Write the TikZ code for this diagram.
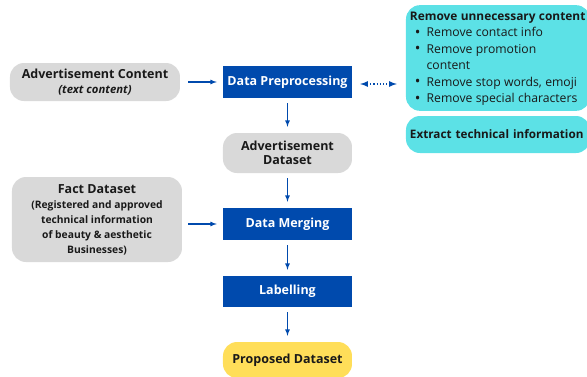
\documentclass[tikz,border=0pt]{standalone}
\usepackage{fontspec}
\setmainfont{Open Sans}
\usetikzlibrary{positioning}

\definecolor{stepblue}{RGB}{0,74,173}
\definecolor{datagray}{RGB}{217,217,217}
\definecolor{infocyan}{RGB}{92,225,230}
\definecolor{resultyellow}{RGB}{255,222,89}
\definecolor{textdark}{RGB}{25,25,25}

\newcommand{\dotitem}{\hspace{5pt}\raisebox{-0.6pt}{\fontsize{15}{15}\selectfont\textbullet}}

\tikzstyle{stepS} = [rectangle, fill=stepblue, text=white, text centered, minimum width=129pt, minimum height=32pt, font=\bfseries\fontsize{12.5}{14}\selectfont]
\tikzstyle{dataS} = [rectangle, rounded corners=14pt, fill=datagray, text=textdark, align=center, font=\bfseries\fontsize{12.5}{14.5}\selectfont]
\tikzstyle{infoS} = [rectangle, rounded corners=14pt, fill=infocyan, text=textdark, minimum width=184pt, text width=176pt, inner xsep=4pt]
\tikzstyle{arrow} = [draw, -latex, stepblue, line width=1.2pt, shorten <=5pt, shorten >=6pt]

\begin{document}
\begin{tikzpicture}[node distance=71pt, auto]
  \useasboundingbox (-287.5pt,82pt) rectangle (299.5pt,-294pt);
  \clip (-287.5pt,82pt) rectangle (299.5pt,-294pt);
  \node [stepS] (prep) {Data Preprocessing};
  \node [dataS, below of=prep, minimum width=129pt, minimum height=40pt, inner sep=2pt] (addata) {Advertisement\\Dataset};
  \node [stepS, below of=addata] (merge) {Data Merging};
  \node [stepS, below of=merge, node distance=67.5pt, minimum height=31pt] (label) {Labelling};
  \node [dataS, below of=label, node distance=68.5pt, fill=resultyellow, minimum width=129pt, minimum height=36pt] (result) {Proposed Dataset};
  \node [dataS, left of=prep, node distance=192.5pt, minimum width=170pt, minimum height=38pt, inner sep=2pt] (adcontent) {Advertisement Content\\\itshape\fontsize{11.3}{12.5}\selectfont (text content)};
  \node [dataS, left of=merge, node distance=190.5pt, yshift=4.5pt, minimum width=170pt, minimum height=85pt, inner sep=2pt, font=\bfseries\fontsize{10.3}{15}\selectfont] (fact) {{\fontsize{12.5}{14}\selectfont Fact Dataset}\\(Registered and approved\\technical information\\of beauty \& aesthetic\\Businesses)};
  \node [infoS, right of=prep, node distance=210.5pt, yshift=24pt, minimum height=104pt] (clean) {\fontsize{12.2}{16.5}\selectfont
    \begin{tabular}{@{}l@{\hspace{6pt}}l@{}}
      \multicolumn{2}{@{}l@{}}{\bfseries\fontsize{11.9}{16.5}\selectfont Remove unnecessary content}\\
      \dotitem & Remove contact info\\
      \dotitem & Remove promotion\\
       & content\\
      \dotitem & Remove stop words, emoji\\
      \dotitem & Remove special characters
    \end{tabular}};
  \node [infoS, below of=clean, node distance=76.5pt, minimum height=37pt, font=\bfseries\fontsize{11.7}{14}\selectfont] (extract) {Extract technical information};

  \draw [arrow, shorten <=8pt] (adcontent.east) -- (prep.west);
  \draw [arrow, shorten <=6pt] (fact.east |- merge.west) -- (merge.west);
  \draw [arrow] (prep.south) -- (addata.north);
  \draw [arrow] (addata.south) -- (merge.north);
  \draw [arrow] (merge.south) -- (label.north);
  \draw [arrow] (label.south) -- (result.north);
  \draw [arrow, latex-latex, dotted, line width=1.6pt, shorten <=8pt, shorten >=9pt] ([yshift=-2pt]prep.east) -- ([yshift=-2pt]clean.west |- prep.east);
\end{tikzpicture}
\end{document}
